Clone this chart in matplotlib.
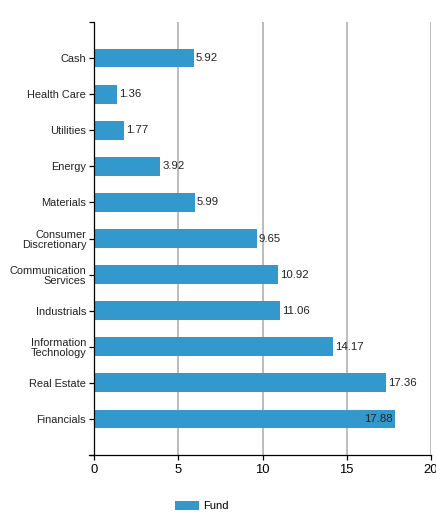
import matplotlib
matplotlib.use('Agg')
import matplotlib.pyplot as plt
from matplotlib.ticker import FixedLocator

plt.rcParams['font.family'] = ['Liberation Sans', 'DejaVu Sans']

sectors = ['Cash', 'Health Care', 'Utilities', 'Energy', 'Materials',
           'Consumer\nDiscretionary', 'Communication\nServices', 'Industrials',
           'Information\nTechnology', 'Real Estate', 'Financials']
fund = [5.92, 1.36, 1.77, 3.92, 5.99, 9.65, 10.92, 11.06, 14.17, 17.36, 17.88]
xticks = [0, 5, 10, 15, 20]

bar_color = '#3399cc'
text_color = '#222222'

fig = plt.figure(figsize=(4.36, 5.12), dpi=100)
ax = fig.add_axes([94.3 / 436, 1 - 455 / 512, (430.7 - 94.3) / 436, (455 - 22) / 512])

pos = list(range(len(sectors)))
ax.barh(pos, fund, height=0.52, color=bar_color, zorder=2, label='Fund')

ax.set_xlim(0, 20)
ax.set_ylim(len(sectors), -1)
ax.set_xticks(xticks)
ax.set_xticklabels([str(t) for t in xticks], fontsize=9.4)
ax.set_yticks(pos)
ax.set_yticklabels(sectors, fontsize=7.9, linespacing=1.05, color=text_color)
ax.yaxis.set_minor_locator(FixedLocator([-1, len(sectors)]))

ax.tick_params(axis='both', which='both', direction='out', length=3.6, width=0.9, colors='black')
ax.tick_params(axis='y', which='both', pad=2.2)
ax.tick_params(axis='x', pad=3)
ax.tick_params(axis='y', labelcolor=text_color)

for t in xticks[1:]:
    ax.axvline(t, color='#aaaaaa', lw=1.1, zorder=1)

for s in ['top', 'right']:
    ax.spines[s].set_visible(False)
for s in ['left', 'bottom']:
    ax.spines[s].set_linewidth(0.9)
# x domain extends a bit past 0 like the outer tick
ax.spines['bottom'].set_bounds(-0.3, 20)
ax.spines['bottom'].set_clip_on(False)

for y, v in zip(pos, fund):
    if v > 17.5:
        ax.annotate(f'{v:.2f}', (v, y), xytext=(-2, 0), textcoords='offset pixels',
                    ha='right', va='center', fontsize=8.2, color=text_color, zorder=3)
    else:
        ax.annotate(f'{v:.2f}', (v, y), xytext=(2, 0), textcoords='offset pixels',
                    ha='left', va='center', fontsize=8.2, color=text_color, zorder=3)

fig.legend(loc='center', bbox_to_anchor=(0.463, 1 - 506 / 512), frameon=False,
           fontsize=8, handlelength=2.16, handleheight=0.9, handletextpad=0.45,
           borderpad=0, borderaxespad=0)

fig.savefig('out.png', dpi=100)
